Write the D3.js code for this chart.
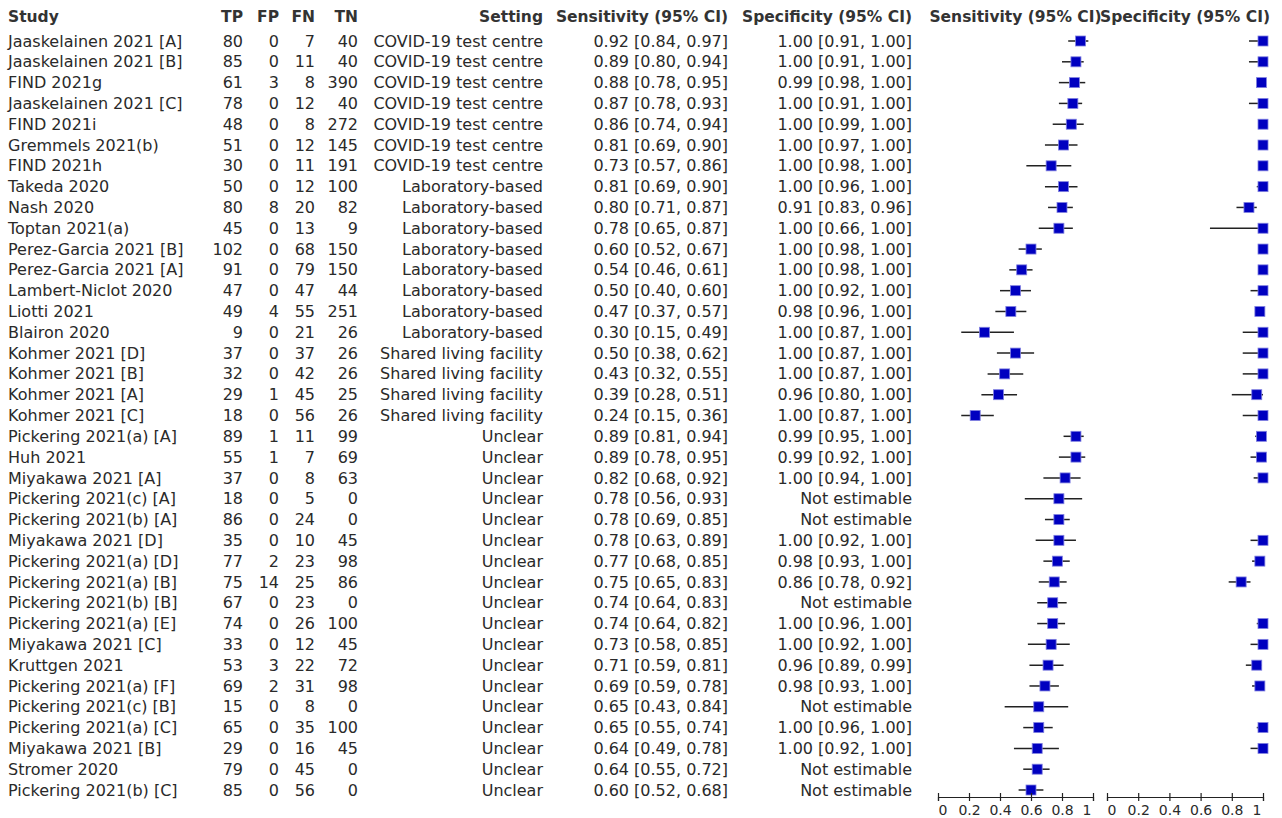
<!DOCTYPE html>
<html>
<head>
<meta charset="utf-8">
<script src="https://cdn.jsdelivr.net/npm/d3@7"></script>
<style>
  body { margin: 0; background: #fff; }
  svg { display: block; font-family: "DejaVu Sans", sans-serif; }
</style>
</head>
<body>
<div id="wrapper"></div>
<script>
const studies = [
  "Jaaskelainen 2021 [A]", "Jaaskelainen 2021 [B]", "FIND 2021g", "Jaaskelainen 2021 [C]",
  "FIND 2021i", "Gremmels 2021(b)", "FIND 2021h", "Takeda 2020", "Nash 2020", "Toptan 2021(a)",
  "Perez-Garcia 2021 [B]", "Perez-Garcia 2021 [A]", "Lambert-Niclot 2020", "Liotti 2021",
  "Blairon 2020", "Kohmer 2021 [D]", "Kohmer 2021 [B]", "Kohmer 2021 [A]", "Kohmer 2021 [C]",
  "Pickering 2021(a) [A]", "Huh 2021", "Miyakawa 2021 [A]", "Pickering 2021(c) [A]",
  "Pickering 2021(b) [A]", "Miyakawa 2021 [D]", "Pickering 2021(a) [D]", "Pickering 2021(a) [B]",
  "Pickering 2021(b) [B]", "Pickering 2021(a) [E]", "Miyakawa 2021 [C]", "Kruttgen 2021",
  "Pickering 2021(a) [F]", "Pickering 2021(c) [B]", "Pickering 2021(a) [C]", "Miyakawa 2021 [B]",
  "Stromer 2020", "Pickering 2021(b) [C]"
];
const tp = [80, 85, 61, 78, 48, 51, 30, 50, 80, 45, 102, 91, 47, 49, 9, 37, 32, 29, 18, 89, 55, 37, 18, 86, 35, 77, 75, 67, 74, 33, 53, 69, 15, 65, 29, 79, 85];
const fp = [0, 0, 3, 0, 0, 0, 0, 0, 8, 0, 0, 0, 0, 4, 0, 0, 0, 1, 0, 1, 1, 0, 0, 0, 0, 2, 14, 0, 0, 0, 3, 2, 0, 0, 0, 0, 0];
const fn = [7, 11, 8, 12, 8, 12, 11, 12, 20, 13, 68, 79, 47, 55, 21, 37, 42, 45, 56, 11, 7, 8, 5, 24, 10, 23, 25, 23, 26, 12, 22, 31, 8, 35, 16, 45, 56];
const tn = [40, 40, 390, 40, 272, 145, 191, 100, 82, 9, 150, 150, 44, 251, 26, 26, 26, 25, 26, 99, 69, 63, 0, 0, 45, 98, 86, 0, 100, 45, 72, 98, 0, 100, 45, 0, 0];
const settings = [
  ...Array(7).fill("COVID-19 test centre"),
  ...Array(8).fill("Laboratory-based"),
  ...Array(4).fill("Shared living facility"),
  ...Array(18).fill("Unclear")
];
const sens   = [0.92, 0.89, 0.88, 0.87, 0.86, 0.81, 0.73, 0.81, 0.80, 0.78, 0.60, 0.54, 0.50, 0.47, 0.30, 0.50, 0.43, 0.39, 0.24, 0.89, 0.89, 0.82, 0.78, 0.78, 0.78, 0.77, 0.75, 0.74, 0.74, 0.73, 0.71, 0.69, 0.65, 0.65, 0.64, 0.64, 0.60];
const sensLo = [0.84, 0.80, 0.78, 0.78, 0.74, 0.69, 0.57, 0.69, 0.71, 0.65, 0.52, 0.46, 0.40, 0.37, 0.15, 0.38, 0.32, 0.28, 0.15, 0.81, 0.78, 0.68, 0.56, 0.69, 0.63, 0.68, 0.65, 0.64, 0.64, 0.58, 0.59, 0.59, 0.43, 0.55, 0.49, 0.55, 0.52];
const sensHi = [0.97, 0.94, 0.95, 0.93, 0.94, 0.90, 0.86, 0.90, 0.87, 0.87, 0.67, 0.61, 0.60, 0.57, 0.49, 0.62, 0.55, 0.51, 0.36, 0.94, 0.95, 0.92, 0.93, 0.85, 0.89, 0.85, 0.83, 0.83, 0.82, 0.85, 0.81, 0.78, 0.84, 0.74, 0.78, 0.72, 0.68];
// null = not estimable
const spec   = [1.00, 1.00, 0.99, 1.00, 1.00, 1.00, 1.00, 1.00, 0.91, 1.00, 1.00, 1.00, 1.00, 0.98, 1.00, 1.00, 1.00, 0.96, 1.00, 0.99, 0.99, 1.00, null, null, 1.00, 0.98, 0.86, null, 1.00, 1.00, 0.96, 0.98, null, 1.00, 1.00, null, null];
const specLo = [0.91, 0.91, 0.98, 0.91, 0.99, 0.97, 0.98, 0.96, 0.83, 0.66, 0.98, 0.98, 0.92, 0.96, 0.87, 0.87, 0.87, 0.80, 0.87, 0.95, 0.92, 0.94, null, null, 0.92, 0.93, 0.78, null, 0.96, 0.92, 0.89, 0.93, null, 0.96, 0.92, null, null];
const specHi = [1.00, 1.00, 1.00, 1.00, 1.00, 1.00, 1.00, 1.00, 0.96, 1.00, 1.00, 1.00, 1.00, 1.00, 1.00, 1.00, 1.00, 1.00, 1.00, 1.00, 1.00, 1.00, null, null, 1.00, 1.00, 0.92, null, 1.00, 1.00, 0.99, 1.00, null, 1.00, 1.00, null, null];
const axisTicks = [0, 0.2, 0.4, 0.6, 0.8, 1];

const width = 1282;
const height = 818;
const textColor = `#2a2a2a`;

const svg = d3.select(`#wrapper`)
  .append(`svg`)
  .attr(`width`, width)
  .attr(`height`, height);

const rows = studies.map((s, i) => ({
  study: s, tp: tp[i], fp: fp[i], fn: fn[i], tn: tn[i], setting: settings[i],
  sens: sens[i], sensLo: sensLo[i], sensHi: sensHi[i],
  spec: spec[i], specLo: specLo[i], specHi: specHi[i]
}));

const yScale = d3.scalePoint()
  .domain(d3.range(rows.length))
  .range([41, 790]);

const xSens = d3.scaleLinear().domain([0, 1]).range([938, 1093]);
const xSpec = d3.scaleLinear().domain([0, 1]).range([1107, 1263]);

const f2 = d3.format(`.2f`);
const ciText = (v, lo, hi) => v == null ? `Not estimable` : `${f2(v)} [${f2(lo)}, ${f2(hi)}]`;

// table columns: x position, anchor, accessor
const columns = [
  {x: 8, anchor: `start`, head: `Study`, get: d => d.study},
  {x: 243, anchor: `end`, head: `TP`, get: d => d.tp},
  {x: 279, anchor: `end`, head: `FP`, get: d => d.fp},
  {x: 315, anchor: `end`, head: `FN`, get: d => d.fn},
  {x: 358, anchor: `end`, head: `TN`, get: d => d.tn},
  {x: 543, anchor: `end`, head: `Setting`, get: d => d.setting},
  {x: 728, anchor: `end`, head: `Sensitivity (95% CI)`, get: d => ciText(d.sens, d.sensLo, d.sensHi)},
  {x: 912, anchor: `end`, head: `Specificity (95% CI)`, get: d => ciText(d.spec, d.specLo, d.specHi)},
];

const headSize = 15.5;
const fontSize = 16;

columns.forEach(col => {
  svg.append(`text`)
    .attr(`x`, col.x)
    .attr(`y`, 17)
    .attr(`dy`, `0.35em`)
    .attr(`text-anchor`, col.anchor)
    .attr(`font-weight`, `bold`)
    .attr(`font-size`, headSize)
    .attr(`fill`, `#333`)
    .text(col.head);

  svg.append(`g`)
    .selectAll(`text`)
    .data(rows)
    .join(`text`)
    .attr(`x`, col.x)
    .attr(`y`, (d, i) => yScale(i))
    .attr(`dy`, `0.35em`)
    .attr(`text-anchor`, col.anchor)
    .attr(`font-size`, fontSize)
    .attr(`fill`, textColor)
    .text(col.get);
});

// forest plots
const panels = [
  {x: xSens, head: `Sensitivity (95% CI)`, v: `sens`, lo: `sensLo`, hi: `sensHi`},
  {x: xSpec, head: `Specificity (95% CI)`, v: `spec`, lo: `specLo`, hi: `specHi`},
];

const box = 10;

panels.forEach(p => {
  const [r0, r1] = p.x.range();
  svg.append(`text`)
    .attr(`x`, (r0 + r1) / 2)
    .attr(`y`, 17)
    .attr(`dy`, `0.35em`)
    .attr(`text-anchor`, `middle`)
    .attr(`font-weight`, `bold`)
    .attr(`font-size`, headSize)
    .attr(`fill`, `#333`)
    .text(p.head);

  const data = rows.map((d, i) => ({i, v: d[p.v], lo: d[p.lo], hi: d[p.hi]}))
    .filter(d => d.v != null);

  const g = svg.append(`g`);

  g.selectAll(`line`)
    .data(data)
    .join(`line`)
    .attr(`x1`, d => p.x(d.lo))
    .attr(`x2`, d => p.x(d.hi))
    .attr(`y1`, d => yScale(d.i))
    .attr(`y2`, d => yScale(d.i))
    .attr(`stroke`, `#222`)
    .attr(`stroke-width`, 1.5);

  g.selectAll(`rect`)
    .data(data)
    .join(`rect`)
    .attr(`x`, d => p.x(d.v) - box / 2)
    .attr(`y`, d => yScale(d.i) - box / 2)
    .attr(`width`, box)
    .attr(`height`, box)
    .attr(`fill`, `#0000c0`)
    .attr(`stroke`, `#8080e0`)
    .attr(`stroke-width`, 0.8);

  const axis = svg.append(`g`)
    .attr(`transform`, `translate(0, 797)`)
    .call(d3.axisBottom(p.x).tickValues(axisTicks).tickSizeOuter(0).tickSize(4).tickFormat(d3.format(`~g`)));

  axis.select(`.domain`).attr(`stroke`, `#222`).attr(`stroke-width`, 1.2);
  axis.selectAll(`.tick line`).attr(`y1`, -4).attr(`y2`, 4).attr(`stroke`, `#222`).attr(`stroke-width`, 1.2);
  // end labels pulled inward like the original
  axis.selectAll(`.tick text`)
    .attr(`y`, 13.5)
    .attr(`dy`, `0.35em`)
    .attr(`text-anchor`, d => d === 0 ? `start` : d === 1 ? `end` : `middle`)
    .attr(`x`, d => d === 0 ? 0 : d === 1 ? -2 : 0)
    .attr(`font-family`, `"DejaVu Sans", sans-serif`)
    .attr(`font-size`, 14)
    .attr(`fill`, textColor);
});
</script>
</body>
</html>
